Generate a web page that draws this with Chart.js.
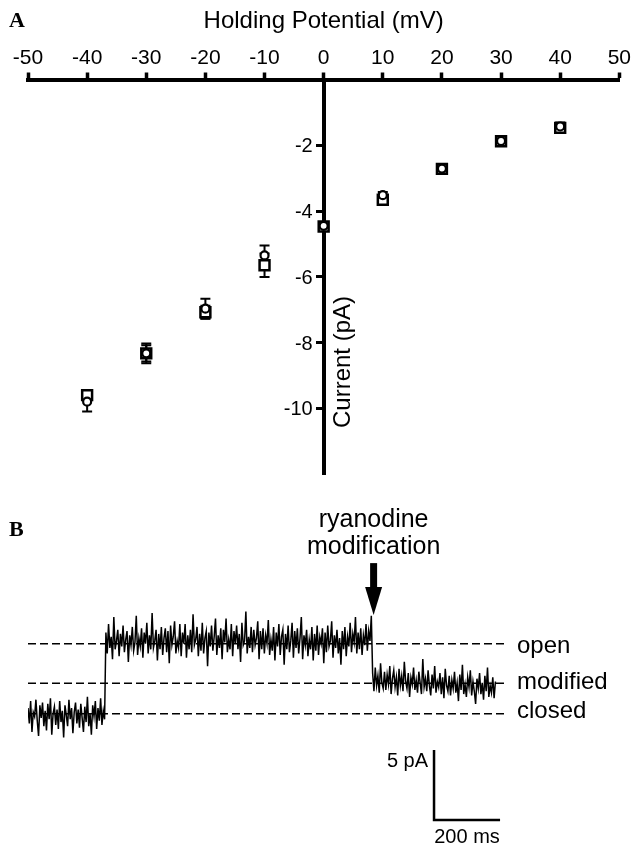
<!DOCTYPE html>
<html><head><meta charset="utf-8">
<script src="https://cdn.jsdelivr.net/npm/chart.js@4.4.1/dist/chart.umd.min.js"></script>
<style>
html,body{margin:0;padding:0;background:#fff;width:633px;height:848px;overflow:hidden;}
#a{position:absolute;left:0;top:0;}
#b{position:absolute;left:0;top:480px;}
</style></head><body>
<canvas id="a" width="633" height="500"></canvas>
<canvas id="b" width="633" height="368"></canvas>
<script>
// ---------- Panel A data ----------
const potentials = [-40, -30, -20, -10, 0, 10, 20, 30, 40];
const circleMean = [-9.8, -8.33, -6.97, -5.35, -4.45, -3.52, -2.71, -1.87, -1.43];
const circleErr  = [0.3, 0.3, 0.3, 0.3, 0.1, 0.1, 0.08, 0.08, 0.12];
const squareMean = [-9.6, -8.33, -7.08, -5.65, -4.47, -3.66, -2.72, -1.88, -1.47];
const squareErr  = [0.15, 0.25, 0.2, 0.36, 0.1, 0.1, 0.08, 0.08, 0.12];
const xTitleA = 'Holding Potential (mV)';
const yTitleA = 'Current (pA)';

// ---------- Panel B data ----------
const traceDt = 4;            // ms between samples
const closedStart = 0;        // ms
const openStart = 236;        // ms
const modifiedStart = 1044;   // ms
const closedTrace = [0.4,-0.7,0.9,-1.3,0.1,-0.2,1.0,-0.5,-1.6,0.6,
 -0.3,0.8,-0.9,0.2,-1.2,0.7,-0.4,1.1,-1.5,0.0,
 0.5,-0.8,0.3,-1.1,0.9,-0.6,0.2,-1.7,0.6,-0.1,
 -0.9,1.0,-0.4,0.4,-1.4,0.1,0.8,-0.7,0.3,-1.0,
 0.7,-0.3,-1.3,0.5,-0.6,1.2,-0.9,0.0,-1.5,0.6,
 -0.2,0.9,-1.1,0.4,-0.5,1.1,-0.8,0.2,-0.4];
const openTrace = [5.8,4.3,6.4,4.7,5.5,3.9,6.9,4.6,5.2,6.0,
 4.1,5.7,4.8,6.3,4.4,5.3,5.9,3.7,5.6,4.9,
 6.2,4.5,5.1,7.0,4.2,5.4,4.8,6.1,4.0,5.8,
 5.0,6.5,4.3,5.6,4.6,7.2,4.7,5.2,6.0,3.8,
 5.7,4.6,6.2,4.2,5.4,6.1,4.4,5.9,3.6,6.3,
 4.9,5.5,6.6,4.3,5.2,4.7,6.4,4.1,5.8,5.0,
 6.4,4.0,5.6,4.6,6.0,4.4,7.1,4.9,5.3,6.2,
 4.1,5.7,4.5,6.5,4.3,5.4,5.9,3.4,5.8,4.8,
 6.3,4.5,5.5,6.8,4.2,5.6,4.7,6.1,3.9,6.0,
 5.1,6.8,4.4,5.3,4.6,6.4,4.1,5.9,5.0,6.3,
 4.6,5.7,3.7,6.5,4.9,5.2,7.3,4.3,5.5,4.7,
 6.2,4.4,6.0,4.9,5.4,6.6,3.9,5.9,4.6,6.1,
 4.3,5.6,5.0,6.7,4.2,5.3,4.5,6.2,3.8,5.8,
 4.8,6.4,4.2,5.5,6.0,3.5,5.7,4.6,6.3,4.4,
 5.2,6.5,4.0,5.9,4.7,6.1,4.3,5.4,6.9,3.9,
 5.6,4.9,6.0,4.1,5.3,4.6,6.2,3.8,5.7,4.5,
 6.3,4.2,5.5,5.0,6.1,3.6,5.8,4.4,6.3,4.8,
 5.2,6.6,4.0,5.6,4.7,6.0,4.3,5.4,3.5,5.9,
 4.6,6.2,4.1,5.5,4.8,6.5,4.4,5.7,5.1,6.9,
 4.3,5.8,4.6,6.1,4.2,5.6,4.9,6.4,4.5,5.9,
 5.2,7.0];
const modifiedTrace = [2.9,1.6,3.3,2.0,2.7,1.5,3.6,2.2,1.8,3.0,
 1.7,2.8,2.1,3.4,1.4,2.5,3.1,1.9,2.6,1.3,
 3.2,2.0,2.7,1.6,3.7,2.3,1.8,2.9,1.2,2.6,
 2.1,3.3,1.7,2.4,1.5,3.0,2.2,1.4,3.9,1.9,
 2.5,1.6,3.1,2.0,1.3,2.8,1.8,3.4,1.5,2.3,
 1.9,2.9,1.4,2.6,1.1,3.2,2.0,1.6,2.7,1.3,
 2.4,1.8,3.0,1.5,2.2,0.9,2.8,1.7,3.5,1.4,
 2.1,1.2,2.6,1.9,3.1,1.3,2.3,1.6,0.7,2.5,
 1.8,2.9,1.4,2.2,1.0,2.7,1.6,3.3,1.2,2.0,
 1.5,2.6,1.1,2.3];
const levelNames  = ['open', 'modified', 'closed'];
const levelValues = [5.0, 2.17, 0];
const timeRangeB = [0, 1445];          // ms
const currentRangeB = [-9.6, 16.7];    // pA
const scaleBarX = [1230, 1230, 1430];  // ms
const scaleBarY = [-2.6, -7.6, -7.6];  // pA
const scaleBarLabels = ['5 pA', '200 ms'];
const arrowTime = 1047;                // ms
const arrowText = ['ryanodine', 'modification'];

// ---------- common ----------
const FONT = "'Liberation Sans', Arial, Helvetica, sans-serif";
Chart.defaults.font.family = FONT;
Chart.defaults.color = '#000';
const pts = (xs, ys) => xs.map((x, i) => ({x: x, y: ys[i]}));

// ---------- Panel A ----------
const errorBars = {
  id: 'errorBars',
  beforeDatasetsDraw(chart) {
    const {ctx, scales: {x, y}} = chart;
    ctx.save();
    ctx.strokeStyle = '#000';
    ctx.lineWidth = 2;
    [[circleMean, circleErr], [squareMean, squareErr]].forEach(([m, e]) => {
      potentials.forEach((p, i) => {
        const px = x.getPixelForValue(p);
        const t = y.getPixelForValue(m[i] + e[i]);
        const b = y.getPixelForValue(m[i] - e[i]);
        ctx.beginPath();
        ctx.moveTo(px, t); ctx.lineTo(px, b);
        ctx.moveTo(px - 5, t); ctx.lineTo(px + 5, t);
        ctx.moveTo(px - 5, b); ctx.lineTo(px + 5, b);
        ctx.stroke();
      });
    });
    ctx.restore();
  }
};
const textA = {
  id: 'textA',
  afterDraw(chart) {
    const {ctx, scales: {x}} = chart;
    ctx.save();
    ctx.fillStyle = '#000';
    ctx.font = "bold 22px 'Liberation Serif', 'Times New Roman', serif";
    ctx.textAlign = 'left';
    ctx.textBaseline = 'alphabetic';
    ctx.fillText('A', 9, 27);
    ctx.translate(x.getPixelForValue(0) + 20, 362);
    ctx.rotate(-Math.PI / 2);
    ctx.font = '24px ' + FONT;
    ctx.textAlign = 'center';
    ctx.textBaseline = 'middle';
    ctx.fillText(yTitleA, 0, 0);
    ctx.restore();
  }
};

new Chart(document.getElementById('a'), {
  type: 'scatter',
  data: {
    datasets: [
      {label: 'circle', data: pts(potentials, circleMean), pointStyle: 'circle', pointRadius: 4,
       pointBorderWidth: 2.2, pointBorderColor: '#000', pointBackgroundColor: '#fff', showLine: false},
      {label: 'square', data: pts(potentials, squareMean), pointStyle: 'rect', pointRadius: 7,
       pointBorderWidth: 2.5, pointBorderColor: '#000', pointBackgroundColor: '#fff', showLine: false}
    ]
  },
  options: {
    responsive: false, animation: false, events: [],
    layout: {padding: {left: 28, right: 12.5, top: 0, bottom: 26}},
    plugins: {legend: {display: false}, tooltip: {enabled: false}},
    scales: {
      x: {
        type: 'linear', position: 'top', min: -50, max: 50,
        ticks: {stepSize: 10, autoSkip: false, maxRotation: 0, padding: 2, color: '#000', font: {size: 21}},
        grid: {drawOnChartArea: false, drawTicks: true, tickLength: 7, tickWidth: 3.5, tickColor: '#000'},
        border: {display: true, color: '#000', width: 4},
        title: {display: true, text: xTitleA, color: '#000', font: {size: 24}, padding: {top: 7, bottom: 0}},
        afterFit(s) { s.height = 79.5; }
      },
      y: {
        type: 'linear', position: 'center', min: -12, max: 0,
        ticks: {stepSize: 2, padding: 5, color: '#000', font: {size: 20}, labelOffset: 1.5,
                callback: v => (v === 0 || v === -12) ? '' : String(v)},
        grid: {drawOnChartArea: false, drawTicks: true, tickLength: 6, tickWidth: 3,
               tickColor: c => (c.tick && (c.tick.value === 0 || c.tick.value === -12)) ? 'rgba(0,0,0,0)' : '#000'},
        border: {display: true, color: '#000', width: 4}
      }
    }
  },
  plugins: [errorBars, textA]
});

// ---------- Panel B ----------
const traceData = []
  .concat(closedTrace.map((v, i) => ({x: closedStart + i * traceDt, y: v})))
  .concat(openTrace.map((v, i) => ({x: openStart + i * traceDt, y: v})))
  .concat(modifiedTrace.map((v, i) => ({x: modifiedStart + i * traceDt, y: v})));

const textB = {
  id: 'textB',
  afterDatasetsDraw(chart) {
    const {ctx, scales: {x, y}, chartArea} = chart;
    ctx.save();
    ctx.fillStyle = '#000';
    ctx.font = "bold 22px 'Liberation Serif', 'Times New Roman', serif";
    ctx.textAlign = 'left';
    ctx.textBaseline = 'alphabetic';
    ctx.fillText('B', 9, 56);
    ctx.font = '24px ' + FONT;
    const dy = [9, 6, 4];
    levelNames.forEach((n, i) => {
      ctx.fillText(n, chartArea.right + 12, y.getPixelForValue(levelValues[i]) + dy[i]);
    });
    const ax = x.getPixelForValue(arrowTime);
    const top = y.getPixelForValue(10.76), base = y.getPixelForValue(9.05), tip = y.getPixelForValue(7.05);
    ctx.fillRect(ax - 3.5, top, 7, base - top + 1);
    ctx.beginPath();
    ctx.moveTo(ax - 8.5, base); ctx.lineTo(ax + 8.5, base); ctx.lineTo(ax, tip); ctx.closePath();
    ctx.fill();
    ctx.font = '25px ' + FONT;
    ctx.textAlign = 'center';
    ctx.fillText(arrowText[0], ax, top - 36);
    ctx.fillText(arrowText[1], ax, top - 9);
    ctx.font = '20px ' + FONT;
    ctx.textAlign = 'right';
    ctx.fillText(scaleBarLabels[0], x.getPixelForValue(scaleBarX[0]) - 6, y.getPixelForValue(scaleBarY[0]) + 17);
    ctx.textAlign = 'center';
    ctx.fillText(scaleBarLabels[1], (x.getPixelForValue(scaleBarX[1]) + x.getPixelForValue(scaleBarX[2])) / 2,
                 y.getPixelForValue(scaleBarY[2]) + 23);
    ctx.restore();
  }
};

new Chart(document.getElementById('b'), {
  type: 'line',
  data: {
    datasets: [
      {label: 'trace', data: traceData, borderColor: '#000', borderWidth: 1.5, pointRadius: 0, tension: 0},
      {label: 'scale', data: pts(scaleBarX, scaleBarY), borderColor: '#000', borderWidth: 2.5, pointRadius: 0, tension: 0},
      ...levelValues.map((v, i) => ({
        label: levelNames[i], data: [{x: timeRangeB[0], y: v}, {x: timeRangeB[1], y: v}],
        borderColor: '#000', borderWidth: 1.5, borderDash: [8, 4], pointRadius: 0
      }))
    ]
  },
  options: {
    responsive: false, animation: false, events: [],
    layout: {padding: {left: 28, right: 128, top: 0, bottom: 0}},
    plugins: {legend: {display: false}, tooltip: {enabled: false}},
    scales: {
      x: {type: 'linear', display: false, min: timeRangeB[0], max: timeRangeB[1]},
      y: {type: 'linear', display: false, min: currentRangeB[0], max: currentRangeB[1]}
    }
  },
  plugins: [textB]
});
</script>
</body></html>
